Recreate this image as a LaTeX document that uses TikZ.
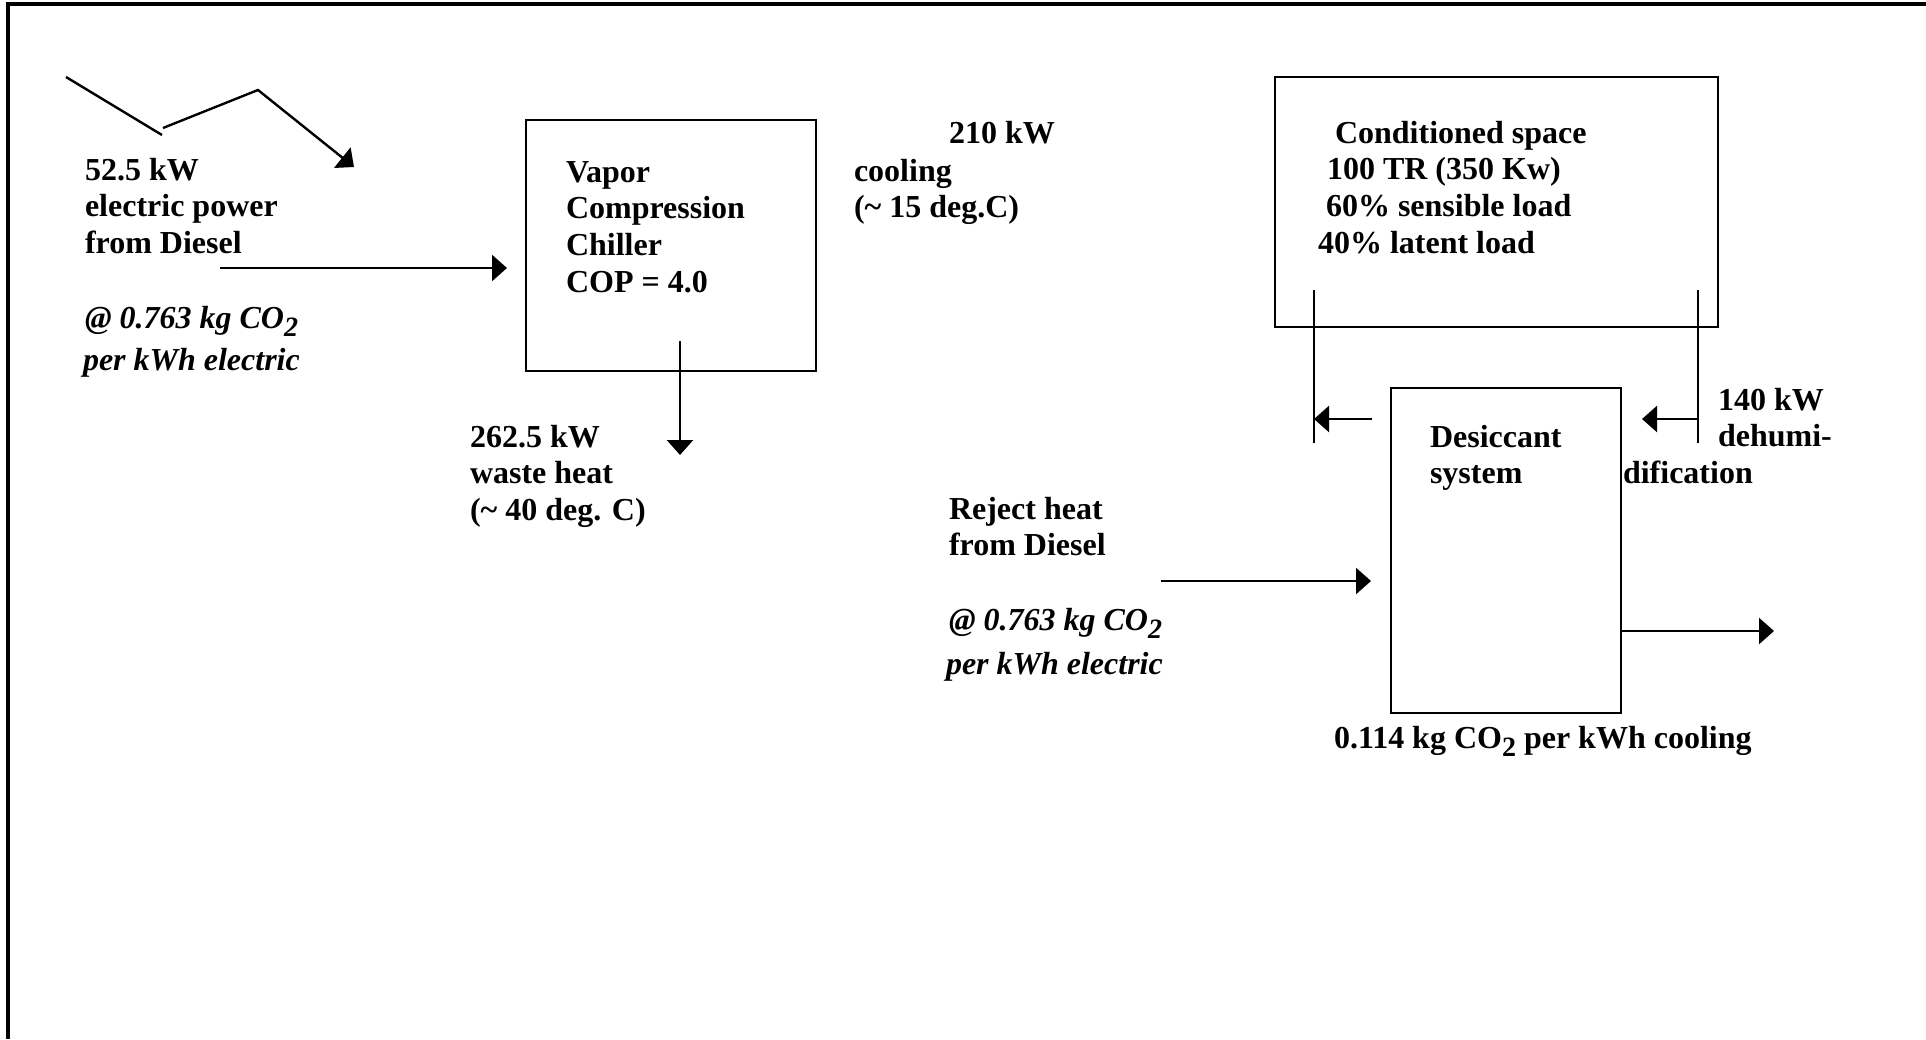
\documentclass[tikz,border=0pt]{standalone}
\usepackage{fontspec}
\setmainfont{Liberation Serif}
\usetikzlibrary{arrows.meta}
\newcommand\subtwo{\raisebox{-4pt}{\fontsize{14pt}{14pt}\selectfont 2}}
\tikzset{
  lbl/.style={inner sep=0pt, outer sep=0pt, anchor=base west,
    font=\fontsize{16pt}{18.35pt}\selectfont\bfseries},
  ilbl/.style={lbl, font=\fontsize{16pt}{18.35pt}\selectfont\bfseries\itshape},
  boxst/.style={draw, line width=1.4pt, inner sep=0pt, outer sep=0pt, anchor=north west},
  flow/.style={line width=1.2pt, -{Triangle[length=7.5pt,width=13pt]}},
  plain/.style={line width=1.2pt},
  frame/.style={line width=1.8pt}
}
\begin{document}
\begin{tikzpicture}[x=0.5pt,y=-0.5pt]
\useasboundingbox (0,0) rectangle (1926,1039);
% outer frame (only top and left visible)
\coordinate (fTR) at (1926,4);
\coordinate (fTL) at (8,4);
\coordinate (fBL) at (8,1039);
\draw[frame] (fTR) -- (fTL) -- (fBL);

% zig-zag electric power arrow
\coordinate (z1) at (66,77);
\coordinate (z2) at (162,135);
\coordinate (z3) at (163,128);
\coordinate (z4) at (258,90);
\coordinate (z5) at (354,167);
\draw[plain] (z1) -- (z2);
\draw[flow] (z3) -- (z4) -- (z5);

% left labels
\node[lbl] (elec) at (85,180) {\begin{tabular}[t]{@{}l@{}}52.5 kW\\electric power\\from Diesel\end{tabular}};
\node[ilbl] (elecco2) at (85,328) {\begin{tabular}[t]{@{}l@{}}@ 0.763 kg CO\subtwo\\[3pt]\hspace*{-1pt}per kWh electric\end{tabular}};

% arrow into chiller
\coordinate (e1) at (220,268);
\coordinate (e2) at (507,268);
\draw[flow] (e1) -- (e2);

% chiller box
\node[boxst, minimum width=145pt, minimum height=125.5pt] (chiller) at (526,120) {};
\node[lbl] (chillertxt) at (566,182) {\begin{tabular}[t]{@{}l@{}}Vapor\\Compression\\Chiller\\COP = 4.0\end{tabular}};

% waste heat arrow
\coordinate (w1) at (680,341);
\coordinate (w2) at (680,455);
\draw[flow] (w1) -- (w2);
\node[lbl] (waste) at (470,447) {\begin{tabular}[t]{@{}l@{}}262.5 kW\\waste heat\\(\textasciitilde{} 40 deg. C)\end{tabular}};

% cooling label
\node[lbl] (coolkw) at (949,143) {210 kW};
\node[lbl] (cool) at (854,181) {\begin{tabular}[t]{@{}l@{}}cooling\\(\textasciitilde{} 15 deg.C)\end{tabular}};

% conditioned space
\node[boxst, minimum width=221.5pt, minimum height=125pt] (space) at (1275,77) {};
\node[lbl] (spacetxt) at (1318,143) {\begin{tabular}[t]{@{}l@{}}\hspace*{8.5pt}Conditioned space\\\hspace*{4.5pt}100 TR (350 Kw)\\\hspace*{4pt}60\% sensible load\\40\% latent load\end{tabular}};

% vertical lines from conditioned space
\coordinate (l1) at (1314,290);
\coordinate (l2) at (1314,443);
\coordinate (r1) at (1698,290);
\coordinate (r2) at (1698,443);
\draw[plain] (l1) -- (l2);
\draw[plain] (r1) -- (r2);
\coordinate (la) at (1372,419);
\coordinate (lb) at (1314,419);
\coordinate (ra) at (1698,419);
\coordinate (rb) at (1642,419);
\draw[flow] (la) -- (lb);
\draw[flow] (ra) -- (rb);

% desiccant system
\node[boxst, minimum width=115pt, minimum height=162.5pt] (desic) at (1391,388) {};
\node[lbl] (desictxt) at (1430,447) {\begin{tabular}[t]{@{}l@{}}Desiccant\\system\end{tabular}};
\node[lbl] (dehum) at (1718,410) {\begin{tabular}[t]{@{}l@{}}140 kW\\dehumi-\end{tabular}};
\node[lbl] (dehum2) at (1623,483) {dification};

% reject heat
\node[lbl] (reject) at (949,519) {\begin{tabular}[t]{@{}l@{}}Reject heat\\from Diesel\end{tabular}};
\node[ilbl] (rejectco2) at (949,630) {\begin{tabular}[t]{@{}l@{}}@ 0.763 kg CO\subtwo\\[4pt]\hspace*{-1.5pt}per kWh electric\end{tabular}};
\coordinate (h1) at (1161,581);
\coordinate (h2) at (1371,581);
\draw[flow] (h1) -- (h2);

% output arrow
\coordinate (o1) at (1621,631);
\coordinate (o2) at (1774,631);
\draw[flow] (o1) -- (o2);
\node[lbl] (result) at (1334,748) {0.114 kg CO\subtwo{} per kWh cooling};
\end{tikzpicture}
\end{document}
